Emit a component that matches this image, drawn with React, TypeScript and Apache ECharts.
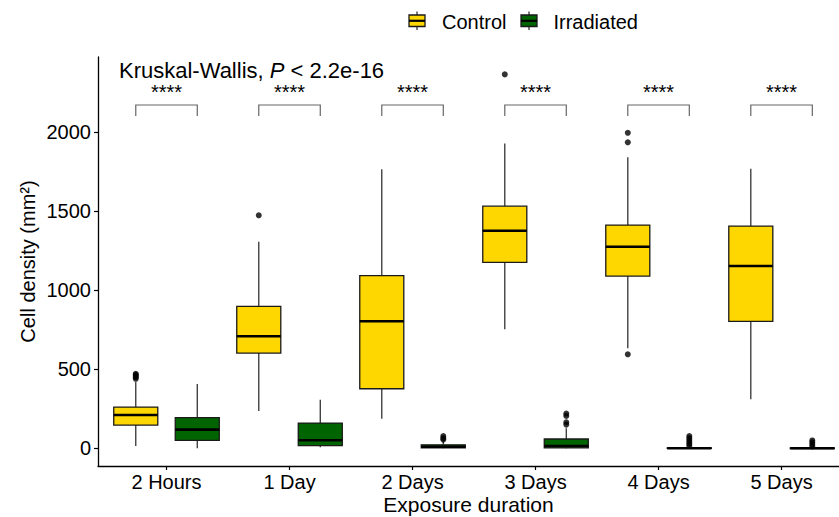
import React, { useEffect, useRef } from "react";
import * as echarts from "echarts";

const categories = ["2 Hours", "1 Day", "2 Days", "3 Days", "4 Days", "5 Days"];

// Control (yellow) box statistics
const controlLow = [15, 236, 187, 753, 633, 310];
const controlQ1 = [147, 603, 377, 1177, 1090, 804];
const controlMedian = [211, 709, 804, 1377, 1276, 1154];
const controlQ3 = [261, 899, 1093, 1533, 1413, 1407];
const controlHigh = [420, 1308, 1766, 1930, 1842, 1770];
const controlOutliers = [[440, 450, 458, 465, 472], [1475], [], [2367], [1997, 1937, 595], []];

// Irradiated (green) box statistics
const irradiatedLow = [0, 6, 0, 0, 0, 0];
const irradiatedQ1 = [50, 17, 3, 3, 0, 0];
const irradiatedMedian = [118, 51, 10, 15, 0, 0];
const irradiatedQ3 = [194, 160, 22, 59, 3, 2];
const irradiatedHigh = [407, 308, 45, 127, 8, 5];
const irradiatedOutliers = [[], [], [55, 65, 78], [150, 165, 205, 220], [15, 28, 40, 52, 65, 78], [12, 25, 38, 50]];

// Significance labels per category
const significance = ["****", "****", "****", "****", "****", "****"];
const bracketLow = 2103;
const bracketHigh = 2173;
const starLevel = 2255;

const yTicks = [0, 500, 1000, 1500, 2000];

const FONT = "'Liberation Sans', Arial, Helvetica, sans-serif";
const YELLOW = "#FFD700";
const GREEN = "#006400";
const DODGE = 0.25;
const BOX_W = 0.358;

function boxRenderer(color: string) {
  return (params: any, api: any) => {
    const x = api.value(0);
    const pLow = api.coord([x, api.value(1)]);
    const pQ1 = api.coord([x, api.value(2)]);
    const pMed = api.coord([x, api.value(3)]);
    const pQ3 = api.coord([x, api.value(4)]);
    const pHigh = api.coord([x, api.value(5)]);
    const w = api.size([BOX_W, 0])[0];
    const px = pLow[0];
    const wStyle = { stroke: "#333333", lineWidth: 1.3 };
    return {
      type: "group",
      children: [
        { type: "line", shape: { x1: px, y1: pHigh[1], x2: px, y2: pQ3[1] }, style: wStyle },
        { type: "line", shape: { x1: px, y1: pQ1[1], x2: px, y2: pLow[1] }, style: wStyle },
        {
          type: "rect",
          shape: { x: px - w / 2, y: pQ3[1], width: w, height: Math.max(pQ1[1] - pQ3[1], 0.5) },
          style: { fill: color, stroke: "#1a1a1a", lineWidth: 1.3 },
        },
        {
          type: "line",
          shape: { x1: px - w / 2, y1: pMed[1], x2: px + w / 2, y2: pMed[1] },
          style: { stroke: "#000", lineWidth: 2.6 },
        },
      ],
    };
  };
}

function bracketRenderer(params: any, api: any) {
  const x = api.value(0);
  const lo = api.value(1);
  const hi = api.value(2);
  const star = api.value(3);
  const a = api.coord([x - DODGE, lo]);
  const b = api.coord([x - DODGE, hi]);
  const c = api.coord([x + DODGE, hi]);
  const d = api.coord([x + DODGE, lo]);
  const s = api.coord([x, star]);
  return {
    type: "group",
    children: [
      {
        type: "polyline",
        shape: { points: [a, b, c, d] },
        style: { stroke: "#666666", lineWidth: 1.2, fill: "none" },
      },
      {
        type: "text",
        style: {
          text: significance[params.dataIndex],
          x: s[0],
          y: s[1],
          align: "center",
          verticalAlign: "middle",
          font: `20px ${FONT}`,
          fill: "#000",
        },
      },
    ],
  };
}

export default function App() {
  const ref = useRef<HTMLDivElement>(null);

  useEffect(() => {
    if (!ref.current) return;
    const chart = echarts.init(ref.current, undefined, { renderer: "svg" });

    const controlData = categories.map((_, i) => [
      i + 1 - DODGE,
      controlLow[i],
      controlQ1[i],
      controlMedian[i],
      controlQ3[i],
      controlHigh[i],
    ]);
    const irradiatedData = categories.map((_, i) => [
      i + 1 + DODGE,
      irradiatedLow[i],
      irradiatedQ1[i],
      irradiatedMedian[i],
      irradiatedQ3[i],
      irradiatedHigh[i],
    ]);
    const controlOutPts: number[][] = [];
    controlOutliers.forEach((arr, i) => arr.forEach((v) => controlOutPts.push([i + 1 - DODGE, v])));
    const irrOutPts: number[][] = [];
    irradiatedOutliers.forEach((arr, i) => arr.forEach((v) => irrOutPts.push([i + 1 + DODGE, v])));
    const bracketData = categories.map((_, i) => [i + 1, bracketLow, bracketHigh, starLevel]);

    const glyph = (x: number, color: string) => [
      { type: "line", shape: { x1: x + 8, y1: 11.5, x2: x + 8, y2: 30 }, style: { stroke: "#333", lineWidth: 1.3 } },
      {
        type: "rect",
        shape: { x, y: 15, width: 16, height: 11.5 },
        style: { fill: color, stroke: "#1a1a1a", lineWidth: 1.3 },
      },
      { type: "line", shape: { x1: x, y1: 20.8, x2: x + 16, y2: 20.8 }, style: { stroke: "#000", lineWidth: 2.2 } },
    ];

    chart.setOption({
      animation: false,
      backgroundColor: "#ffffff",
      textStyle: { fontFamily: FONT },
      grid: { left: 98, right: 0, top: 57, bottom: 51, outerBoundsMode: "none", containLabel: false },
      legend: {
        left: 409,
        top: 12,
        padding: 0,
        itemWidth: 28,
        itemHeight: 14,
        itemGap: 14,
        selectedMode: false,
        textStyle: { fontSize: 20, color: "#000", fontFamily: FONT, padding: 0 },
        data: [
          { name: "Control", icon: "none" },
          { name: "Irradiated", icon: "none" },
        ],
      },
      graphic: [
        ...glyph(409, YELLOW),
        ...glyph(521, GREEN),
        {
          type: "text",
          x: 119,
          y: 70.5,
          style: {
            text: "{a|Kruskal-Wallis, }{i|P}{a| < 2.2e-16}",
            verticalAlign: "middle",
            rich: {
              a: { fontSize: 22, fontFamily: FONT, fill: "#000" },
              i: { fontSize: 22, fontFamily: FONT, fontStyle: "italic", fill: "#000" },
            },
          },
        },
      ],
      xAxis: {
        type: "value",
        min: 0.443,
        max: 6.467,
        name: "Exposure duration",
        nameLocation: "middle",
        nameGap: 28,
        nameMoveOverlap: false,
        nameTextStyle: { fontSize: 21, color: "#000", fontFamily: FONT, lineHeight: 21 },
        axisLine: { onZero: false, lineStyle: { color: "#000", width: 1.3 } },
        axisTick: { show: true, length: 4, customValues: [1, 2, 3, 4, 5, 6], lineStyle: { color: "#000", width: 1.2 } },
        axisLabel: {
          customValues: [1, 2, 3, 4, 5, 6],
          formatter: (v: number) => categories[Math.round(v) - 1] ?? "",
          fontSize: 20,
          color: "#000",
          margin: 6,
          fontFamily: FONT,
        },
        splitLine: { show: false },
      },
      yAxis: {
        type: "value",
        min: -112,
        max: 2477,
        name: "Cell density (mm²)",
        nameLocation: "middle",
        nameGap: 60,
        nameMoveOverlap: false,
        nameTextStyle: { fontSize: 20, color: "#000", fontFamily: FONT },
        axisLine: { show: true, onZero: false, lineStyle: { color: "#000", width: 1.3 } },
        axisTick: { show: true, length: 4, customValues: yTicks, lineStyle: { color: "#000", width: 1.2 } },
        axisLabel: {
          customValues: yTicks,
          formatter: (v: number) => String(Math.round(v)),
          fontSize: 20,
          color: "#000",
          margin: 7,
          fontFamily: FONT,
        },
        splitLine: { show: false },
      },
      series: [
        {
          name: "Control",
          type: "custom",
          renderItem: boxRenderer(YELLOW),
          itemStyle: { color: YELLOW },
          encode: { x: 0, y: [1, 2, 3, 4, 5] },
          data: controlData,
          z: 2,
        },
        {
          name: "Irradiated",
          type: "custom",
          renderItem: boxRenderer(GREEN),
          itemStyle: { color: GREEN },
          encode: { x: 0, y: [1, 2, 3, 4, 5] },
          data: irradiatedData,
          z: 2,
        },
        {
          name: "Control outliers",
          type: "scatter",
          symbolSize: 6,
          itemStyle: { color: "#000" },
          data: controlOutPts,
          z: 3,
        },
        {
          name: "Irradiated outliers",
          type: "scatter",
          symbolSize: 6,
          itemStyle: { color: "#000" },
          data: irrOutPts,
          z: 3,
        },
        {
          name: "Significance",
          type: "custom",
          renderItem: bracketRenderer,
          encode: { x: 0, y: [1, 2, 3] },
          data: bracketData,
          z: 2,
        },
      ],
    });

    return () => chart.dispose();
  }, []);

  return (
    <div
      ref={ref}
      style={{ position: "fixed", left: 0, top: 0, width: 839, height: 517, background: "#fff" }}
    />
  );
}
